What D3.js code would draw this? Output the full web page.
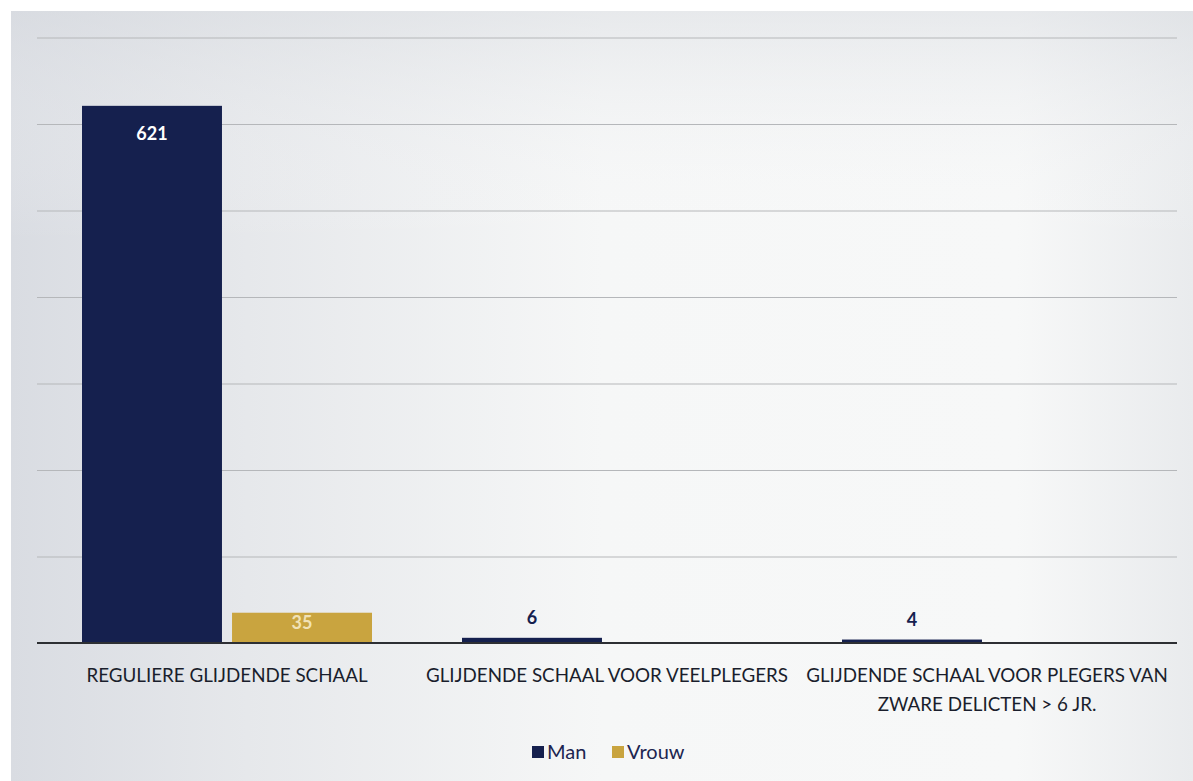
<!DOCTYPE html>
<html>
<head>
<meta charset="utf-8">
<script src="https://cdn.jsdelivr.net/npm/d3@7"></script>
<style>
  html, body { margin: 0; padding: 0; background: #ffffff; }
  svg { display: block; }
</style>
</head>
<body>
<svg id="chart" width="1193" height="781"></svg>
<script>
const categories = [
  ["REGULIERE GLIJDENDE SCHAAL"],
  ["GLIJDENDE SCHAAL VOOR VEELPLEGERS"],
  ["GLIJDENDE SCHAAL VOOR PLEGERS VAN", "ZWARE DELICTEN > 6 JR."]
];
const seriesNames = ["Man", "Vrouw"];
const manValues = [621, 6, 4];
const vrouwValues = [35, 0, 0];
const yTicks = [0, 100, 200, 300, 400, 500, 600, 700];
const colors = ["#15204e", "#c9a43f"];

const svg = d3.select("#chart");
const W = 1193, H = 781;
const font = "Lato, 'Open Sans', sans-serif";

// photographed page background
const defs = svg.append("defs");
const lg = defs.append("linearGradient").attr("id", "bg").attr("x1", "0").attr("x2", "1").attr("y1", "0").attr("y2", "0");
lg.append("stop").attr("offset", "0%").attr("stop-color", "#d9dce2");
lg.append("stop").attr("offset", "20%").attr("stop-color", "#e6e8eb");
lg.append("stop").attr("offset", "50%").attr("stop-color", "#f6f7f7");
lg.append("stop").attr("offset", "85%").attr("stop-color", "#f7f8f8");
lg.append("stop").attr("offset", "100%").attr("stop-color", "#e9ebed");
const vg = defs.append("linearGradient").attr("id", "bgv").attr("x1", "0").attr("x2", "0").attr("y1", "0").attr("y2", "1");
vg.append("stop").attr("offset", "0%").attr("stop-color", "#d8dbe0").attr("stop-opacity", 0.5);
vg.append("stop").attr("offset", "30%").attr("stop-color", "#ffffff").attr("stop-opacity", 0);
vg.append("stop").attr("offset", "100%").attr("stop-color", "#ffffff").attr("stop-opacity", 0);

svg.append("rect").attr("x", 0).attr("y", 0).attr("width", W).attr("height", H).attr("fill", "#ffffff");
svg.append("rect").attr("x", 11).attr("y", 11).attr("width", W - 11).attr("height", H - 11).attr("fill", "url(#bg)");
svg.append("rect").attr("x", 11).attr("y", 11).attr("width", W - 11).attr("height", H - 11).attr("fill", "url(#bgv)");

const margin = { left: 37, right: 16 };
const plotW = W - margin.left - margin.right;
const baseY = 643;

const y = d3.scaleLinear().domain([0, 700]).range([baseY, baseY - 605.5]);
const x0 = d3.scaleBand().domain(d3.range(categories.length)).range([margin.left, margin.left + plotW]).paddingInner(0).paddingOuter(0);
const x1 = d3.scaleBand().domain(seriesNames).range([0, x0.bandwidth()]).paddingInner(0.067).paddingOuter(0.3);

// gridlines
const gridAxis = d3.axisLeft(y).tickValues(yTicks.filter(d => d > 0)).tickSize(-plotW).tickFormat("");
const gg = svg.append("g").attr("transform", `translate(${margin.left},0)`).call(gridAxis);
gg.select(".domain").remove();
gg.selectAll(".tick line").attr("stroke", "#b5b7ba").attr("stroke-width", 1.2);

// bars
const data = categories.map((c, i) => ({ i, values: [manValues[i], vrouwValues[i]] }));
const groups = svg.append("g").selectAll("g").data(data).join("g")
  .attr("transform", d => `translate(${x0(d.i)},0)`);

groups.selectAll("rect").data(d => d.values.map((v, k) => ({ v, k })).filter(e => e.v > 0)).join("rect")
  .attr("x", e => x1(seriesNames[e.k]))
  .attr("width", x1.bandwidth())
  .attr("y", e => y(e.v))
  .attr("height", e => y(0) - y(e.v))
  .attr("fill", e => colors[e.k]);

// value labels
groups.selectAll("text.val").data(d => d.values.map((v, k) => ({ v, k })).filter(e => e.v > 0)).join("text")
  .attr("class", "val")
  .attr("x", e => x1(seriesNames[e.k]) + x1.bandwidth() / 2)
  .attr("y", e => {
    const h = y(0) - y(e.v);
    return h > 25 ? y(e.v) + Math.min(34, h / 2 + 1) : y(e.v) - 14;
  })
  .attr("text-anchor", "middle")
  .attr("font-family", font)
  .attr("font-weight", "bold")
  .attr("font-size", 18)
  .attr("fill", e => (y(0) - y(e.v)) > 25 ? (e.k === 1 ? "#f1e2b6" : "#ffffff") : "#15204e")
  .text(e => e.v);

// baseline
svg.append("line").attr("x1", margin.left).attr("x2", margin.left + plotW)
  .attr("y1", y(0)).attr("y2", y(0)).attr("stroke", "#2d2f33").attr("stroke-width", 2.2);

// category labels
const cl = svg.append("g").selectAll("text").data(categories).join("text")
  .attr("x", (d, i) => x0(i) + x0.bandwidth() / 2)
  .attr("y", 682)
  .attr("text-anchor", "middle")
  .attr("font-family", font)
  .attr("font-size", 18.8)
  .attr("fill", "#1a1e2c");
cl.each(function (d, i) {
  const t = d3.select(this);
  d.forEach((line, j) => {
    t.append("tspan").attr("x", x0(i) + x0.bandwidth() / 2).attr("dy", j === 0 ? 0 : 29).text(line);
  });
});

// legend
const legend = svg.append("g").attr("transform", "translate(532,744)");
const items = [{ name: "Man", x: 0 }, { name: "Vrouw", x: 80 }];
items.forEach((it, k) => {
  legend.append("rect").attr("x", it.x).attr("y", 2).attr("width", 12).attr("height", 12).attr("fill", colors[k]);
  legend.append("text").attr("x", it.x + 15).attr("y", 15).attr("font-family", font).attr("font-size", 20)
    .attr("fill", "#1c2550").text(it.name);
});
</script>
</body>
</html>
